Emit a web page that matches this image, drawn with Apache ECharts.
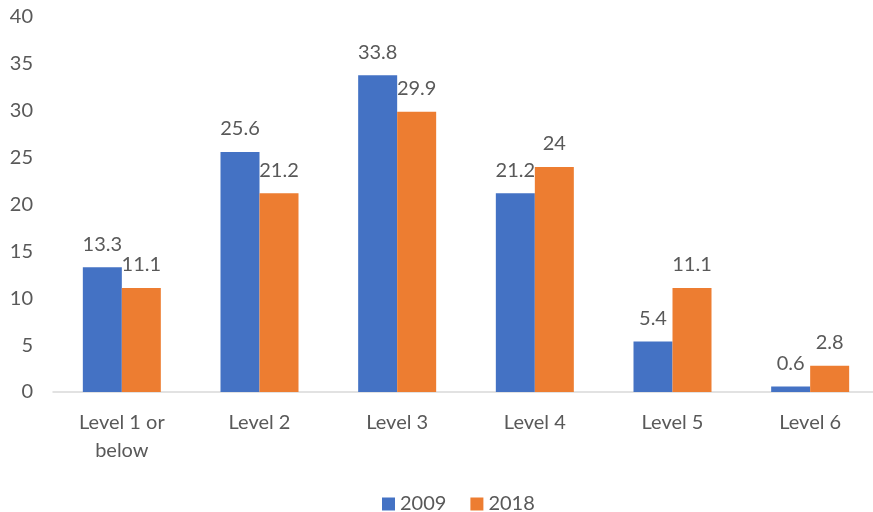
<!DOCTYPE html>
<html>
<head>
<meta charset="utf-8">
<script src="https://cdn.jsdelivr.net/npm/echarts@6/dist/echarts.min.js"></script>
<style>html,body{margin:0;padding:0;background:#fff}#c{width:873px;height:512px}</style>
</head>
<body>
<div id="c"></div>
<script>
const categories = ['Level 1 or\nbelow', 'Level 2', 'Level 3', 'Level 4', 'Level 5', 'Level 6'];
const series2009 = [13.3, 25.6, 33.8, 21.2, 5.4, 0.6];
const series2018 = [11.1, 21.2, 29.9, 24, 11.1, 2.8];
const seriesNames = ['2009', '2018'];
const yTicks = [0, 5, 10, 15, 20, 25, 30, 35, 40];

const FONT = 'Lato';
const TXT = '#595959';
const FS = 20;
const chart = echarts.init(document.getElementById('c'), null, {renderer: 'canvas'});
const lbl = {show: true, position: 'top', distance: 13, color: TXT, fontSize: FS, fontFamily: FONT};
chart.setOption({
  animation: false,
  textStyle: {fontFamily: FONT},
  grid: {left: 53, top: 17, width: 826, height: 375, containLabel: false, outerBoundsMode: 'none'},
  legend: {
    data: seriesNames, top: 489, left: 377, itemWidth: 13, itemHeight: 13, itemGap: 24,
    icon: 'rect', textStyle: {color: TXT, fontSize: FS, fontFamily: FONT}
  },
  xAxis: {
    type: 'category', data: categories,
    axisLine: {lineStyle: {color: '#d9d9d9', width: 1.5}},
    axisTick: {show: false},
    axisLabel: {color: TXT, fontSize: FS, fontFamily: FONT, margin: 17, lineHeight: 28, interval: 0}
  },
  yAxis: {
    type: 'value', min: yTicks[0], max: yTicks[yTicks.length - 1], interval: 5,
    splitLine: {show: false}, axisLine: {show: false}, axisTick: {show: false},
    axisLabel: {color: TXT, fontSize: FS, fontFamily: FONT, margin: 20}
  },
  series: [
    {name: seriesNames[0], type: 'bar', data: series2009, barWidth: 39, barGap: '0%',
     itemStyle: {color: '#4472C4'}, label: lbl},
    {name: seriesNames[1], type: 'bar', data: series2018, barWidth: 39,
     itemStyle: {color: '#ED7D31'}, label: lbl}
  ]
});
</script>
</body>
</html>
